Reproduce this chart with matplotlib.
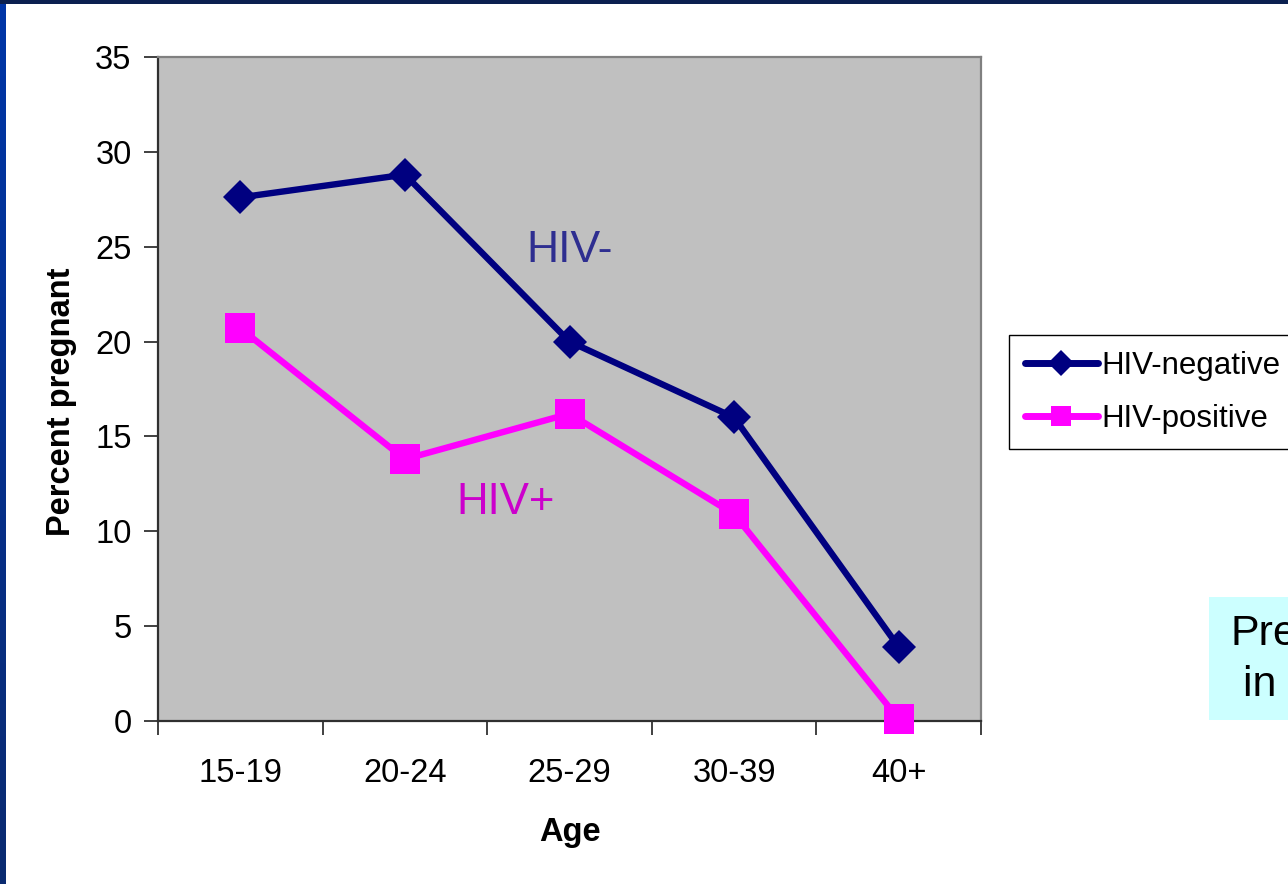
import numpy as np
import matplotlib
matplotlib.use("Agg")
import matplotlib.pyplot as plt
from matplotlib.patches import Rectangle
from matplotlib.lines import Line2D

plt.rcParams['font.family'] = ['Liberation Sans', 'DejaVu Sans']

# Data
age_groups = ["15-19", "20-24", "25-29", "30-39", "40+"]
hiv_negative = [27.6, 28.8, 20.0, 16.0, 3.9]
hiv_positive = [20.7, 13.8, 16.2, 10.9, 0.1]
series_names = ["HIV-negative", "HIV-positive"]
y_ticks = [0, 5, 10, 15, 20, 25, 30, 35]

NAVY = "#000080"
MAGENTA = "#FF00FF"

W, H = 1288, 884
fig = plt.figure(figsize=(W / 100, H / 100), dpi=100)
fig.patch.set_facecolor("white")

# Slide frame: blue strip on the left, dark strip along the top
grad = np.linspace(0, 1, 256).reshape(-1, 1)
frame_ax = fig.add_axes([0, 0, 6 / W, 1])
frame_ax.imshow(grad, aspect="auto", extent=[0, 1, 0, 1],
                cmap=matplotlib.colors.LinearSegmentedColormap.from_list(
                    "frame", ["#0036A8", "#0A2A70"]))
frame_ax.axis("off")
fig.patches.append(Rectangle((0, 1 - 3.5 / H), 1, 3.5 / H, transform=fig.transFigure,
                             facecolor="#0B2050", edgecolor="none", zorder=5))

ax = fig.add_axes([158 / W, 163 / H, 823 / W, 664 / H])
ax.set_facecolor("#C0C0C0")

x = np.arange(len(age_groups))
ax.plot(x, hiv_negative, color=NAVY, lw=4.6, marker="D", ms=17,
        markeredgewidth=0, solid_joinstyle="miter", clip_on=False, zorder=3)
ax.plot(x, hiv_positive, color=MAGENTA, lw=4.6, marker="s", ms=21.5,
        markeredgewidth=0, clip_on=False, zorder=3)

ax.set_xlim(-0.5, len(age_groups) - 0.5)
ax.set_ylim(0, 35)

# Category labels centered, tick marks on category boundaries
ax.set_xticks(x)
ax.set_xticklabels(age_groups, fontsize=23.5)
ax.tick_params(axis="x", which="major", length=0, pad=27)
ax.set_xticks(np.arange(-0.5, len(age_groups)), minor=True)
ax.tick_params(axis="x", which="minor", length=10, width=1.2, direction="out",
               color="#202020")

ax.set_yticks(y_ticks)
ax.set_yticklabels([str(v) for v in y_ticks], fontsize=23.5)
ax.tick_params(axis="y", length=10, width=1.2, direction="out", pad=9,
               color="#202020")

for side in ("top", "right"):
    ax.spines[side].set_color("#808080")
    ax.spines[side].set_linewidth(1.6)
for side in ("left", "bottom"):
    ax.spines[side].set_color("#303030")
    ax.spines[side].set_linewidth(1.6)

ax.set_xlabel("Age", fontsize=23.5, fontweight="bold")
ax.xaxis.set_label_coords(0.5, (721 - 832) / 664)
ax.xaxis.label.set_verticalalignment("center")
ax.set_ylabel("Percent pregnant", fontsize=23.5, fontweight="bold")
ax.yaxis.set_label_coords((62 - 158) / 823, (721 - 402) / 664)
ax.yaxis.label.set_verticalalignment("center")

# Series annotations inside the plot
ax.text(2.0, 24.8, "HIV-", color="#2E2E90", fontsize=32, ha="center", va="center")
ax.text(1.61, 11.5, "HIV+", color="#CC00CC", fontsize=31.5, ha="center", va="center")

# Legend
handles = [
    Line2D([], [], color=NAVY, lw=5, marker="D", ms=13, markeredgewidth=0,
           solid_capstyle="round"),
    Line2D([], [], color=MAGENTA, lw=5, marker="s", ms=14, markeredgewidth=0,
           solid_capstyle="round"),
]
leg = fig.legend(handles, series_names, loc="upper left",
                 bbox_to_anchor=(1009 / W, 1 - 335 / H),
                 fontsize=22.5, frameon=True, fancybox=False, framealpha=1,
                 edgecolor="black", handlelength=2.35, handletextpad=0.1,
                 labelspacing=0.74, borderpad=0.5, borderaxespad=0)
leg.get_frame().set_linewidth(1.0)

# Caption box at the right edge
fig.patches.append(Rectangle((1209 / W, 1 - 720 / H), 200 / W, 123 / H,
                             transform=fig.transFigure, facecolor="#CCFFFF",
                             edgecolor="none", zorder=1))
fig.text(1230 / W, 1 - 634 / H, "Pregnancy", fontsize=31, ha="left",
         va="center", zorder=2)
fig.text(1243 / W, 1 - 685 / H, "in women", fontsize=31, ha="left",
         va="center", zorder=2)

fig.savefig("out.png", dpi=100)
